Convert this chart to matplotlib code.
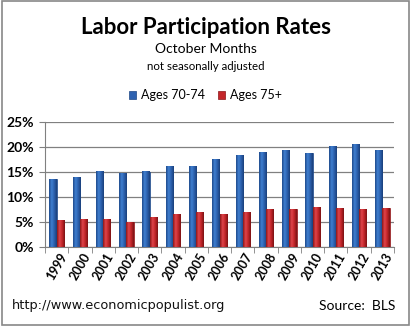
import matplotlib.pyplot as plt
import numpy as np
from matplotlib.patches import Rectangle
from matplotlib.colors import LinearSegmentedColormap

years = ['1999', '2000', '2001', '2002', '2003', '2004', '2005', '2006',
         '2007', '2008', '2009', '2010', '2011', '2012', '2013']
ages_70_74 = [13.6, 14.0, 15.1, 14.8, 15.1, 16.2, 16.2, 17.6,
              18.4, 19.0, 19.4, 18.8, 20.2, 20.6, 19.4]
ages_75_up = [5.4, 5.6, 5.6, 5.0, 6.1, 6.6, 7.0, 6.6,
              7.0, 7.6, 7.6, 8.0, 7.8, 7.6, 7.8]

plt.rcParams['font.family'] = ['Lato', 'DejaVu Sans']

fig = plt.figure(figsize=(4.11, 3.26), dpi=100)
fig.patches.append(Rectangle((0.004, 0.004), 0.992, 0.992, transform=fig.transFigure,
                             fill=False, edgecolor='#888888', linewidth=1.2))

ax = fig.add_axes([45/411, 1 - 247/326, 349/411, 125/326])
x = np.arange(len(years))
w = 0.31
b1 = ax.bar(x - w/2, ages_70_74, w, color='#2e62b0', edgecolor='#1d4685', linewidth=0.5,
            label='Ages 70-74', zorder=3)
b2 = ax.bar(x + w/2, ages_75_up, w, color='#c4262a', edgecolor='#8a1518', linewidth=0.5,
            label='Ages 75+', zorder=3)

# shaded fill for the bars, clipped to each rectangle
blue_cm = LinearSegmentedColormap.from_list('b', ['#1f4a8c', '#3f7fd0', '#2b5fab', '#1a3f7a'])
red_cm = LinearSegmentedColormap.from_list('r', ['#8c1618', '#e0444a', '#bf2428', '#7a1214'])
grad = np.linspace(0, 1, 64).reshape(1, -1)
for bars, cm in [(b1, blue_cm), (b2, red_cm)]:
    for p in bars:
        x0, y0 = p.get_x(), p.get_y()
        im = ax.imshow(grad, cmap=cm, aspect='auto', zorder=3.5,
                       extent=(x0, x0 + p.get_width(), y0, y0 + p.get_height()))
        im.set_clip_path(p)

ax.set_xlim(-0.5, len(years) - 0.5)
ax.set_ylim(0, 25)
ax.set_yticks([0, 5, 10, 15, 20, 25])
ax.set_yticklabels(['0%', '5%', '10%', '15%', '20%', '25%'], fontsize=10, fontweight='bold')
ax.yaxis.grid(True, color='#808080', linewidth=0.9, zorder=0)
ax.set_xticks(x)
ax.set_xticklabels(years, rotation=60, fontsize=9, fontweight='bold', ha='center')
ax.set_xticks(np.arange(len(years) + 1) - 0.5, minor=True)
ax.tick_params(axis='x', which='major', length=0, pad=3)
ax.tick_params(axis='x', which='minor', length=4, color='#808080')
ax.tick_params(axis='y', length=4, color='#808080', pad=4)
for s in ['top', 'right']:
    ax.spines[s].set_visible(False)
ax.spines['left'].set_color('#808080')
ax.spines['bottom'].set_color('#808080')

fig.text(0.5, 1 - 27/326, 'Labor Participation Rates', ha='center', va='center',
         fontsize=16, fontweight='bold')
fig.text(0.5, 1 - 49/326, 'October Months', ha='center', va='center', fontsize=10)
fig.text(0.5, 1 - 66/326, 'not seasonally adjusted', ha='center', va='center', fontsize=8.3)
fig.legend(loc='center', bbox_to_anchor=(0.5, 1 - 95/326), ncol=2, frameon=False,
           fontsize=9, handlelength=0.6, handleheight=0.6, columnspacing=1.0,
           handletextpad=0.4)

fig.text(12/411, 1 - 306/326, 'http://www.economicpopulist.org', ha='left', va='center',
         fontsize=9.3, family='DejaVu Sans', color='#111111')
fig.text(395/411, 1 - 306/326, 'Source:  BLS', ha='right', va='center', fontsize=10)

fig.savefig('out.png', dpi=100)
